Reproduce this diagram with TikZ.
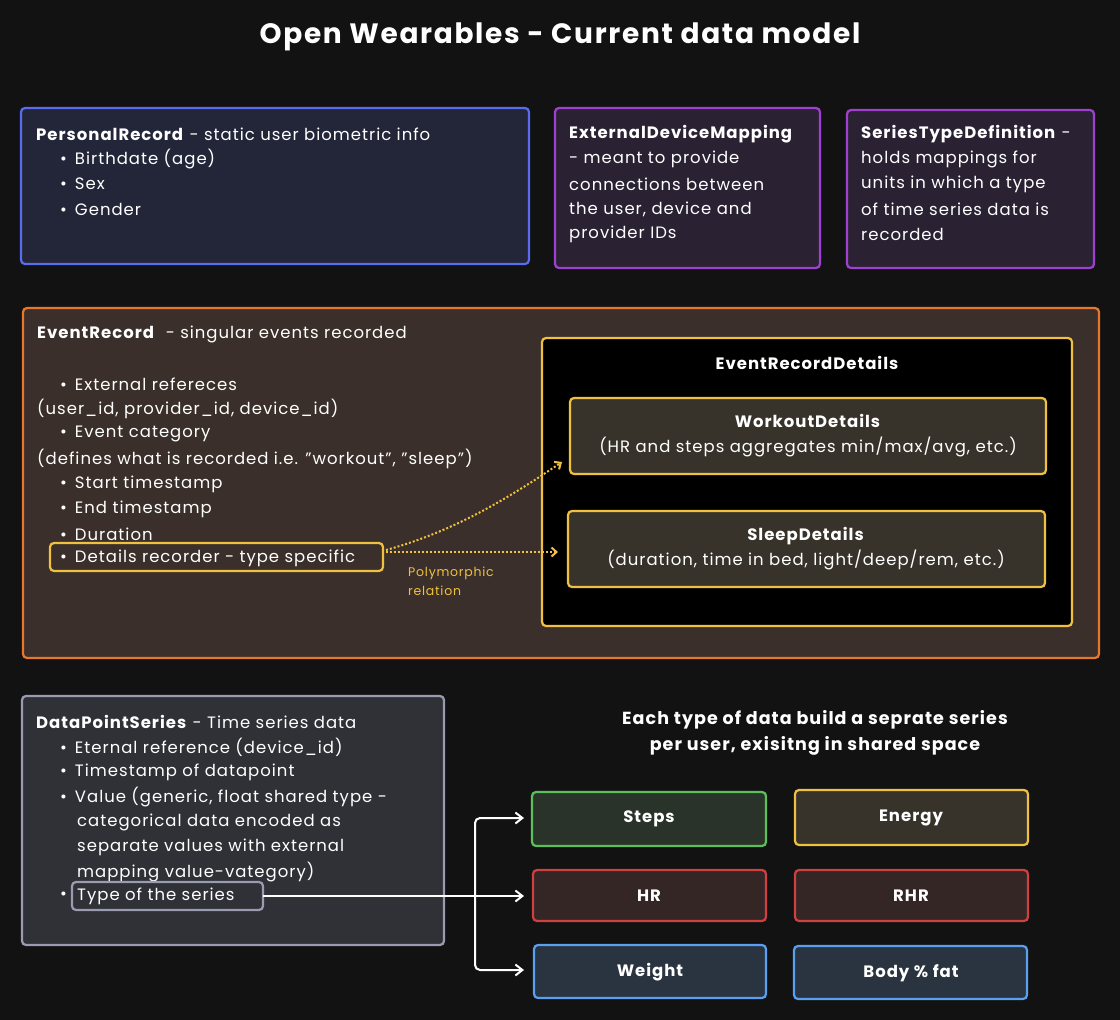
\documentclass[tikz,border=0pt]{standalone}
\usepackage{fontspec}
\setmainfont[LetterSpace=6]{Poppins}
\usetikzlibrary{arrows.meta}
\definecolor{bg}{HTML}{121212}
\definecolor{cblue}{HTML}{5B6BF0}\definecolor{fblue}{HTML}{222638}
\definecolor{cpur}{HTML}{A040D0}\definecolor{fpur}{HTML}{2A2233}
\definecolor{corg}{HTML}{E8772E}\definecolor{forg}{HTML}{3A2F2A}
\definecolor{cyel}{HTML}{F0C040}\definecolor{fyel}{HTML}{38332A}
\definecolor{cgray}{HTML}{9A9AB0}\definecolor{fgray}{HTML}{2F3136}
\definecolor{cgrn}{HTML}{5BBF5B}\definecolor{fgrn}{HTML}{2A332A}
\definecolor{cred}{HTML}{D04040}\definecolor{fred}{HTML}{352626}
\definecolor{cbl2}{HTML}{5AA0F0}\definecolor{fbl2}{HTML}{2A3340}
\newcommand{\dq}{''}
\tikzset{
 panel/.style={line width=2.2pt,rounded corners=4pt},
 txt/.style={anchor=west,text=white,font=\fontsize{16.5}{20}\selectfont,inner sep=0pt},
 ctr/.style={text=white,font=\fontsize{16.5}{20}\selectfont,align=center,inner sep=0pt},
 series/.style={line width=2.2pt,rounded corners=4pt},
 lbl/.style={text=white,font=\fontsize{16.5}{20}\selectfont\bfseries,inner sep=0pt},
 wire/.style={white,line width=2pt,-{Straight Barb[length=7pt,width=11pt]}},
 dots/.style={cyel,line width=2pt,dotted,-{Straight Barb[length=5pt,width=9pt]}}
}
\begin{document}
\begin{tikzpicture}[x=1pt,y=-1pt]
\fill[bg] (0,0) rectangle (1120,1020);
\useasboundingbox (0,0) rectangle (1120,1020);
\node[text=white,font=\fontsize{28}{30}\selectfont\bfseries] (title) at (560,37) {Open Wearables - Current data model};
% Personal record
\draw[panel,cblue,fill=fblue] (21,108) rectangle (529,264);
\node[txt] (p1) at (36,134) {\textbf{PersonalRecord} - static user biometric info};
\node[txt] (p2) at (60,159) {•\hspace{8pt}Birthdate (age)};
\node[txt] (p3) at (60,184) {•\hspace{8pt}Sex};
\node[txt] (p4) at (60,209) {•\hspace{8pt}Gender};
% External device mapping
\draw[panel,cpur,fill=fpur] (555,108) rectangle (820,268);
\node[txt] (e1) at (569,134) {\textbf{ExternalDeviceMapping}};
\node[txt] (e2) at (569,159) {- meant to provide};
\node[txt] (e3) at (569,184) {connections between};
\node[txt] (e4) at (569,209) {the user, device and};
\node[txt] (e5) at (569,234) {provider IDs};
% Series type def
\draw[panel,cpur,fill=fpur] (847,110) rectangle (1094,268);
\node[txt] (s1) at (861,134) {\textbf{SeriesTypeDefinition} -};
\node[txt] (s2) at (861,159) {holds mappings for};
\node[txt] (s3) at (861,184) {units in which a type};
\node[txt] (s4) at (861,209) {of time series data is};
\node[txt] (s5) at (861,234) {recorded};
% Event record
\draw[panel,corg,fill=forg] (23,308) rectangle (1099,658);
\node[txt] (r0) at (37,334) {\textbf{EventRecord}\ \ - singular events recorded};
\node[txt] (r1) at (60,384) {•\hspace{8pt}External refereces};
\node[txt] (r2) at (37,409) {(user\_id, provider\_id, device\_id)};
\node[txt] (r3) at (60,434) {•\hspace{8pt}Event category};
\node[txt] (r4) at (37,459) {(defines what is recorded i.e. \dq workout\dq, \dq sleep\dq)};
\node[txt] (r5) at (60,484) {•\hspace{8pt}Start timestamp};
\node[txt] (r6) at (60,509) {•\hspace{8pt}End timestamp};
\node[txt] (r7) at (60,534) {•\hspace{8pt}Duration};
\draw[panel,cyel] (50,543) rectangle (383,571);
\node[txt] (r8) at (60,558) {•\hspace{8pt}Details recorder - type specific};
\coordinate (det) at (386,550);
\coordinate (det2) at (386,552);
\node[anchor=north west,align=left,text=cyel,font=\fontsize{12.5}{19}\selectfont,inner sep=0pt] (poly) at (408,567) {Polymorphic\\relation};
\draw[panel,cyel,fill=black] (542,338) rectangle (1072,626);
\node[lbl] (erd) at (807,363) {EventRecordDetails};
\draw[panel,cyel,fill=fyel] (570,398) rectangle (1046,474);
\node[ctr] (wd) at (808,436) {\textbf{WorkoutDetails}\\[5pt](HR and steps aggregates min/max/avg, etc.)};
\draw[panel,cyel,fill=fyel] (568,511) rectangle (1045,587);
\node[ctr] (sd) at (806,549) {\textbf{SleepDetails}\\[5pt](duration, time in bed, light/deep/rem, etc.)};
\coordinate (wdin) at (562,462);
\coordinate (sdin) at (558,552);
\draw[dots] (det) .. controls (460,530) and (520,490) .. (wdin);
\draw[dots] (det2) -- (sdin);
% Data point series
\draw[panel,cgray,fill=fgray] (22,696) rectangle (444,945);
\node[txt] (d0) at (36,722) {\textbf{DataPointSeries} - Time series data};
\node[txt] (d1) at (60,747) {•\hspace{8pt}Eternal reference (device\_id)};
\node[txt] (d2) at (60,772) {•\hspace{8pt}Timestamp of datapoint};
\node[txt] (d3) at (60,797) {•\hspace{8pt}Value (generic, float shared type -};
\node[txt] (d4) at (77,822) {categorical data encoded as};
\node[txt] (d5) at (77,847) {separate values with external};
\node[txt] (d6) at (77,872) {mapping value-vategory)};
\node[txt] (d7) at (60,896) {•};
\draw[panel,cgray] (72,882) rectangle (263,910);
\node[txt] (d8) at (77,896) {Type of the series};
\coordinate (tos) at (263,896);
\node[ctr,font=\fontsize{17.5}{26}\selectfont\bfseries] (each) at (815,733) {Each type of data build a seprate series\\per user, exisitng in shared space};
% series boxes
\draw[series,cgrn,fill=fgrn] (532,792) rectangle (766,846); \node[lbl] (steps) at (649,819) {Steps};
\draw[series,cyel,fill=fyel] (795,790) rectangle (1028,845); \node[lbl] (energy) at (911,818) {Energy};
\draw[series,cred,fill=fred] (533,870) rectangle (766,921); \node[lbl] (hr) at (649,896) {HR};
\draw[series,cred,fill=fred] (795,870) rectangle (1028,921); \node[lbl] (rhr) at (911,896) {RHR};
\draw[series,cbl2,fill=fbl2] (534,945) rectangle (766,998); \node[lbl] (weight) at (650,972) {Weight};
\draw[series,cbl2,fill=fbl2] (794,946) rectangle (1027,999); \node[lbl] (fat) at (911,973) {Body \% fat};
\coordinate (hrin) at (524,896);
\coordinate (stin) at (524,818);
\coordinate (wtin) at (524,970);
\draw[wire] (tos) -- (hrin);
\draw[wire,rounded corners=5pt] (475,896) |- (stin);
\draw[wire,rounded corners=5pt] (475,896) |- (wtin);
\end{tikzpicture}
\end{document}
